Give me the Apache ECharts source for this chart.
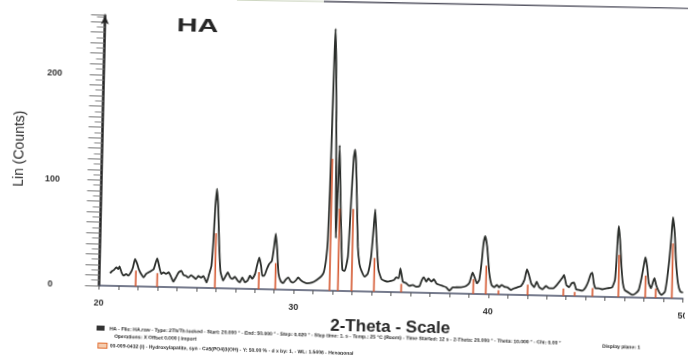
<!DOCTYPE html>
<html>
<head>
<meta charset="UTF-8">
<title>HA - XRD</title>
<script src="https://cdn.jsdelivr.net/npm/echarts@6.0.0/dist/echarts.min.js"></script>
<style>
  html, body { margin: 0; padding: 0; background: #fff; overflow: hidden; }
  /* the scanned original sits slightly skewed */
  #chart { width: 688px; height: 355px; transform: rotate(1.28deg); }
</style>
</head>
<body>
<div id="chart"></div>
<script>
// measured pattern, 2-Theta (deg)
const twoTheta = [
  20.55, 20.65, 20.74, 20.87, 20.97, 21.03, 21.14, 21.25, 21.38, 21.48, 21.6, 21.72, 21.82, 21.94, 22.02,
  22.15, 22.28, 22.4, 22.53, 22.67, 22.79, 22.96, 23.08, 23.18, 23.3, 23.42, 23.56, 23.7, 23.81, 23.94,
  24.07, 24.21, 24.33, 24.45, 24.58, 24.72, 24.84, 24.96, 25.09, 25.23, 25.35, 25.52, 25.64, 25.75, 25.82,
  25.88, 25.95, 26.04, 26.12, 26.22, 26.37, 26.5, 26.6, 26.72, 26.84, 26.97, 27.11, 27.23, 27.35, 27.49,
  27.62, 27.74, 27.86, 28.0, 28.09, 28.2, 28.3, 28.37, 28.47, 28.6, 28.71, 28.85, 28.94, 29.02, 29.11,
  29.2, 29.33, 29.45, 29.57, 29.71, 29.84, 29.97, 30.1, 30.22, 30.34, 30.45, 30.66, 30.91, 31.16, 31.41,
  31.53, 31.64, 31.7, 31.75, 31.79, 31.83, 31.86, 31.93, 31.99, 32.04, 32.08, 32.11, 32.15, 32.2, 32.26,
  32.32, 32.42, 32.48, 32.6, 32.75, 32.86, 32.94, 33.0, 33.07, 33.14, 33.25, 33.35, 33.46, 33.63, 33.79,
  33.94, 34.03, 34.1, 34.2, 34.33, 34.5, 34.66, 34.83, 34.98, 35.14, 35.25, 35.38, 35.46, 35.6, 35.78,
  35.94, 36.11, 36.29, 36.46, 36.57, 36.67, 36.8, 36.91, 37.06, 37.19, 37.32, 37.49, 37.66, 37.83, 38.0,
  38.17, 38.34, 38.6, 38.85, 39.02, 39.17, 39.3, 39.4, 39.52, 39.62, 39.7, 39.78, 39.89, 40.03, 40.16,
  40.3, 40.43, 40.55, 40.67, 40.81, 40.98, 41.16, 41.32, 41.49, 41.67, 41.84, 41.96, 42.07, 42.19, 42.35,
  42.47, 42.61, 42.78, 42.95, 43.12, 43.33, 43.55, 43.77, 43.87, 44.0, 44.14, 44.27, 44.39, 44.51, 44.65,
  44.82, 44.99, 45.12, 45.24, 45.32, 45.41, 45.5, 45.67, 45.87, 46.09, 46.35, 46.49, 46.55, 46.59, 46.63,
  46.71, 46.81, 46.9, 47.0, 47.21, 47.41, 47.58, 47.72, 47.85, 47.96, 48.03, 48.13, 48.23, 48.35, 48.45,
  48.52, 48.61, 48.76, 48.9, 49.07, 49.16, 49.26, 49.34, 49.4, 49.51, 49.6, 49.73, 49.86, 50.0
];
// Lin (Counts)
const counts = [
  12, 14, 15, 17.6, 16, 18.6, 13, 10, 11.5, 10, 12.5, 17.8, 25.9, 21.2, 16.5,
  11.8, 8.7, 11.9, 13.5, 15.2, 16.8, 27, 18.5, 12.3, 13.9, 12.4, 14, 9.3, 5.3, 9.4,
  14.1, 15.7, 11.7, 11.1, 9.5, 11.8, 10.2, 8.1, 11.2, 9.7, 11.3, 5.1, 13.2, 21, 43,
  75, 94, 75, 43, 16, 7.3, 12.1, 15.2, 10.6, 9.1, 11.3, 7.6, 6.1, 10.8, 6.2,
  7.8, 12.6, 9.5, 14.3, 22.1, 30, 22.2, 12.8, 12.8, 19.2, 23.9, 27.1, 39.2, 52.8, 37.7,
  15.6, 7.8, 6.2, 9.4, 11.8, 8, 7, 9, 12, 9.5, 8, 6.5, 7.2, 9.8, 13.7,
  17.6, 31, 48, 95, 160, 225, 248, 215, 170, 120, 70, 50, 90, 138, 112,
  80, 38, 20, 19, 33, 90, 127, 134, 120, 90, 42, 26, 19.5, 14, 17,
  33, 58, 78, 50, 21, 12, 10.6, 9.8, 10.5, 11.5, 14.1, 13.2, 22.7, 10, 8.6,
  6.2, 7.2, 5.6, 6.3, 12, 14.7, 10.5, 13.8, 10.7, 13, 9.2, 7.8, 6.8, 5.7, 2.6,
  5.8, 5.9, 6, 7.3, 10.5, 20.2, 14.8, 10.1, 13.3, 29.2, 48.1, 55.1, 45, 19.9, 8.8,
  6.7, 9.1, 6.8, 9.2, 7.5, 7, 4.5, 6.2, 7.2, 8.5, 14.3, 24.5, 19.1, 11.3, 7.6,
  12.9, 7.7, 5.9, 9, 6.9, 7, 11.2, 16.7, 19.9, 10.4, 8.3, 12.1, 12.8, 6.5, 6,
  5.4, 8.6, 14, 21.3, 22.6, 12.6, 8, 8, 7.1, 8.1, 9.2, 16.2, 35.1, 57.3, 67.4,
  54.2, 28.9, 13.3, 6.9, 4.5, 2.4, 4.1, 7.2, 18.4, 31, 38.4, 29.4, 13.8, 9.1, 15.3,
  18.7, 12.3, 6, 2.9, 6.2, 17.3, 36.3, 58.4, 76.8, 61.6, 36.5, 14.5, 6.5, 5.7
];

// reference sticks (Hydroxylapatite, Y: 50 %)
const stickTheta = [21.88, 22.98, 25.95, 28.2, 29.05, 31.84, 32.27, 32.97, 34.12, 35.52, 39.22,
  39.87, 40.52, 42.02, 43.85, 44.44, 45.35, 46.68, 48.06, 48.6, 49.43];
const stickCounts = [15, 13, 52, 16, 25, 125, 78, 78, 32, 8, 14,
  27, 4, 10, 7, 4, 8, 40, 21, 9, 52];

const xTickLabels = [20, 30, 40, 50];
const yTickLabels = [0, 100, 200];

const legendLines = [
  'HA - File: HA.raw - Type: 2Th/Th locked - Start: 20.000 ° - End: 50.000 ° - Step: 0.020 ° - Step time: 1. s - Temp.: 25 °C (Room) - Time Started: 12 s - 2-Theta: 20.000 ° - Theta: 10.000 ° - Chi: 0.00 °',
  'Operations: X Offset 0.000 | Import',
  '00-009-0432 (I) - Hydroxylapatite, syn - Ca5(PO4)3(OH) - Y: 50.00 % - d x by: 1. - WL: 1.5406 - Hexagonal',
  'Display plane: 1'
];

const chart = echarts.init(document.getElementById('chart'));

const legendFont = { fontSize: 5, fontWeight: 'bold', fontFamily: 'Liberation Sans, Arial, sans-serif', fill: '#2a2a2a', verticalAlign: 'middle' };

chart.setOption({
  animation: false,
  backgroundColor: '#fff',
  grid: { left: 101.5, right: 2.5, top: 20.7, bottom: 64, containLabel: false, outerBoundsMode: 'none' },
  xAxis: {
    type: 'value',
    min: 20,
    max: 50,
    interval: 1,
    name: '2-Theta - Scale',
    nameLocation: 'middle',
    nameGap: 27,
    nameTextStyle: { fontSize: 17, fontWeight: 'bold', fontFamily: 'Liberation Sans, Arial', color: '#262626' },
    axisLine: { lineStyle: { color: '#4a5068', width: 1.5 } },
    axisTick: { length: 4, lineStyle: { color: '#555' } },
    axisLabel: {
      margin: 13,
      fontSize: 9,
      fontWeight: 'bold',
      color: '#333',
      formatter: v => (xTickLabels.includes(v) ? String(v) : '')
    },
    splitLine: { show: false }
  },
  yAxis: {
    type: 'value',
    min: 0,
    max: 256,
    interval: 10,
    name: 'Lin (Counts)',
    nameLocation: 'middle',
    nameGap: 75,
    nameTextStyle: { fontSize: 14, fontFamily: 'Liberation Sans, Arial', color: '#262626' },
    axisLine: { show: true, symbol: ['none', 'arrow'], symbolSize: [6, 9], lineStyle: { color: '#222', width: 2.5 } },
    axisTick: { length: 14, lineStyle: { color: '#777' } },
    minorTick: { show: true, splitNumber: 2, length: 8, lineStyle: { color: '#888' } },
    axisLabel: {
      align: 'center',
      margin: 49,
      fontSize: 9,
      fontWeight: 'bold',
      color: '#333',
      formatter: v => (yTickLabels.includes(v) ? String(v) : '')
    },
    splitLine: { show: false }
  },
  series: [
    {
      name: 'HA',
      type: 'line',
      data: twoTheta.map((t, i) => [t, counts[i]]),
      showSymbol: false,
      smooth: 0.15,
      lineStyle: { color: '#2b2e2b', width: 1.8 },
      z: 2
    },
    {
      name: 'Hydroxylapatite',
      type: 'bar',
      data: stickTheta.map((t, i) => [t, stickCounts[i]]),
      barWidth: 1.6,
      itemStyle: { color: '#d4562e' },
      z: 3
    }
  ],
  graphic: [
    // sample title, the original uses a wide face
    {
      type: 'text', x: 173.5, y: 30, scaleX: 1.6,
      style: { text: 'HA', fontSize: 18, fontWeight: 'bold', fontFamily: 'Liberation Sans, Arial', fill: '#262626', verticalAlign: 'middle' }
    },
    { type: 'line', shape: { x1: 233, y1: 2.4, x2: 320, y2: 2 }, style: { stroke: '#c9d2bb', lineWidth: 1.2 } },
    { type: 'line', shape: { x1: 320, y1: 2, x2: 688, y2: 0.6 }, style: { stroke: '#4e4e5c', lineWidth: 1.3 } },
    {
      type: 'group',
      rotation: -0.009,
      originX: 100,
      originY: 335,
      children: [
        { type: 'rect', shape: { x: 100, y: 331, width: 8, height: 5 }, style: { fill: '#333' } },
        { type: 'text', x: 113, y: 334, style: Object.assign({ text: legendLines[0] }, legendFont) },
        { type: 'text', x: 118, y: 341.5, style: Object.assign({ text: legendLines[1] }, legendFont) },
        { type: 'rect', shape: { x: 102, y: 348.5, width: 9, height: 5 }, style: { fill: '#f4cdb0', stroke: '#e06a2c', lineWidth: 1 } },
        { type: 'text', x: 114, y: 351, style: Object.assign({ text: legendLines[2] }, legendFont) },
        { type: 'text', x: 606, y: 336, style: Object.assign({ text: legendLines[3] }, legendFont) }
      ]
    }
  ]
});
</script>
</body>
</html>
